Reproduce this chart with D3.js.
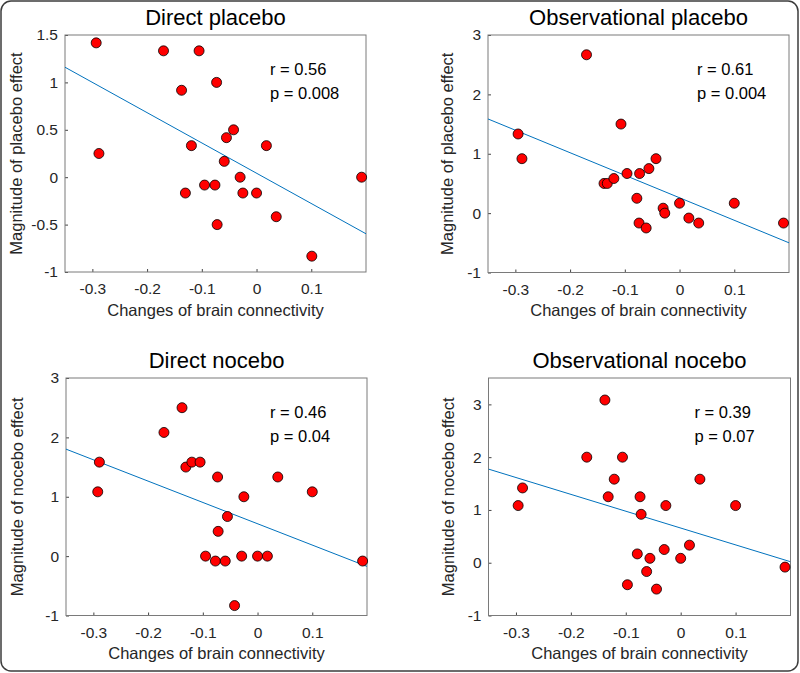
<!DOCTYPE html>
<html>
<head>
<meta charset="utf-8">
<script src="https://cdn.jsdelivr.net/npm/d3@7"></script>
<style>
  html, body { margin: 0; padding: 0; background: #ffffff; }
  svg text { font-family: "Liberation Sans", Arial, Helvetica, sans-serif; }
</style>
</head>
<body>
<svg id="chart" width="800" height="673"></svg>
<script>
// ---------------- DATA ----------------
const panelTitles = ["Direct placebo", "Observational placebo", "Direct nocebo", "Observational nocebo"];
const yAxisLabels = ["Magnitude of placebo effect", "Magnitude of placebo effect",
                     "Magnitude of nocebo effect", "Magnitude of nocebo effect"];
const xAxisLabel = "Changes of brain connectivity";
const xDomain = [-0.35, 0.2];
const xTickValues = [-0.3, -0.2, -0.1, 0, 0.1];
const yDomains = [[-1, 1.5], [-1, 3], [-1, 3], [-1, 3.5]];
const yTickValues = [[-1, -0.5, 0, 0.5, 1, 1.5], [-1, 0, 1, 2, 3], [-1, 0, 1, 2, 3], [-1, 0, 1, 2, 3]];
const rValues = ["0.56", "0.61", "0.46", "0.39"];
const pValues = ["0.008", "0.004", "0.04", "0.07"];

// Direct placebo
const xDirectPlacebo = [-0.293, -0.288, -0.170, -0.105, -0.137, -0.073, -0.042, -0.055, -0.119, 0.018, -0.059,
                        -0.030, 0.192, -0.130, -0.095, -0.076, -0.025, 0.0, 0.036, -0.072, 0.101];
const yDirectPlacebo = [1.417, 0.25, 1.333, 1.333, 0.917, 1.0, 0.5, 0.417, 0.333, 0.333, 0.167,
                        0, 0, -0.167, -0.083, -0.083, -0.167, -0.167, -0.417, -0.5, -0.833];
// Observational placebo
const xObsPlacebo = [-0.295, -0.288, -0.170, -0.107, -0.138, -0.132, -0.120, -0.096, -0.073, -0.056, -0.043,
                     -0.078, -0.030, -0.027, 0.0, 0.017, 0.035, -0.074, -0.061, 0.1, 0.19];
const yObsPlacebo = [1.333, 0.917, 2.667, 1.5, 0.5, 0.5, 0.583, 0.667, 0.667, 0.75, 0.917,
                     0.25, 0.083, 0, 0.167, -0.083, -0.167, -0.167, -0.25, 0.167, -0.167];
// Direct nocebo
const xDirectNocebo = [-0.292, -0.289, -0.171, -0.138, -0.131, -0.120, -0.105, -0.073, -0.025, -0.055, -0.072,
                       -0.095, -0.077, -0.059, -0.029, 0.0, 0.018, -0.042, 0.037, 0.1, 0.192];
const yDirectNocebo = [1.083, 1.583, 2.083, 2.5, 1.5, 1.583, 1.583, 1.333, 1.0, 0.667, 0.417,
                       0, -0.083, -0.083, 0, 0, 0, -0.833, 1.333, 1.083, -0.083];
// Observational nocebo
const xObsNocebo = [-0.296, -0.288, -0.171, -0.138, -0.106, -0.121, -0.132, -0.074, -0.072, -0.027, 0.035,
                    0.1, -0.030, 0.016, -0.079, -0.056, 0.0, -0.062, -0.097, -0.044, 0.19];
const yObsNocebo = [1.083, 1.417, 2.0, 3.083, 2.0, 1.583, 1.25, 1.25, 0.917, 1.083, 1.583,
                    1.083, 0.25, 0.333, 0.167, 0.083, 0.083, -0.167, -0.417, -0.5, -0.083];

const xSeries = [xDirectPlacebo, xObsPlacebo, xDirectNocebo, xObsNocebo];
const ySeries = [yDirectPlacebo, yObsPlacebo, yDirectNocebo, yObsNocebo];

// Regression line: y value at the left and right end of the x domain
const fitLeftY  = [1.16, 1.586, 1.802, 1.774];
const fitRightY = [-0.597, -0.5, -0.173, 0.019];

// ---------------- LAYOUT ----------------
const boxes = [
  { l: 65,    t: 35,  w: 301, h: 237,   ylabOff: 43.5 },
  { l: 488,   t: 35,  w: 301, h: 237.5, ylabOff: 35 },
  { l: 66,    t: 378, w: 301, h: 237.5, ylabOff: 43.5 },
  { l: 488.5, t: 378, w: 302, h: 237.5, ylabOff: 35 }
];
const annOffX = [205, 209, 204, 206];
const FONT = '"Liberation Sans", Arial, Helvetica, sans-serif';
const TICK_FS = 15.5;

const svg = d3.select("#chart");

svg.append("rect")
  .attr("x", 1).attr("y", 1).attr("width", 797).attr("height", 670)
  .attr("rx", 10).attr("ry", 10)
  .attr("fill", "#ffffff").attr("stroke", "#3c3c3c").attr("stroke-width", 1.5);

boxes.forEach((b, i) => {
  const g = svg.append("g");
  const x = d3.scaleLinear().domain(xDomain).range([b.l, b.l + b.w]);
  const y = d3.scaleLinear().domain(yDomains[i]).range([b.t + b.h, b.t]);

  const clipId = "clip" + i;
  svg.append("clipPath").attr("id", clipId)
    .append("rect").attr("x", b.l).attr("y", b.t).attr("width", b.w).attr("height", b.h);

  // axes (ticks inside)
  const xAxis = d3.axisBottom(x).tickValues(xTickValues).tickFormat(d => String(d))
    .tickSizeInner(-3).tickSizeOuter(0).tickPadding(11);
  const gx = g.append("g").attr("transform", `translate(0,${b.t + b.h})`).call(xAxis);
  const yAxis = d3.axisLeft(y).tickValues(yTickValues[i]).tickFormat(d => String(d))
    .tickSizeInner(-3).tickSizeOuter(0).tickPadding(7);
  const gy = g.append("g").attr("transform", `translate(${b.l},0)`).call(yAxis);
  [gx, gy].forEach(ax => {
    ax.attr("font-size", TICK_FS).attr("font-family", FONT);
    ax.select(".domain").remove();
    ax.selectAll(".tick line").attr("stroke", "#444");
    ax.selectAll(".tick text").attr("fill", "#262626")
      .attr("font-size", TICK_FS).attr("font-family", FONT);
  });

  // box
  g.append("rect").attr("x", b.l).attr("y", b.t).attr("width", b.w).attr("height", b.h)
    .attr("fill", "none").attr("stroke", "#7a7a7a").attr("stroke-width", 1);

  // regression line
  g.append("line").attr("clip-path", `url(#${clipId})`)
    .attr("x1", x(xDomain[0])).attr("y1", y(fitLeftY[i]))
    .attr("x2", x(xDomain[1])).attr("y2", y(fitRightY[i]))
    .attr("stroke", "#0072BD").attr("stroke-width", 1);

  // points
  const pts = xSeries[i].map((v, k) => ({ x: v, y: ySeries[i][k] }));
  g.selectAll("circle.pt").data(pts).enter().append("circle").attr("class", "pt")
    .attr("cx", d => x(d.x)).attr("cy", d => y(d.y)).attr("r", 5)
    .attr("fill", "#ff0000").attr("stroke", "#000").attr("stroke-width", 0.8);

  // title
  g.append("text").attr("x", b.l + b.w / 2).attr("y", b.t - 10.5)
    .attr("text-anchor", "middle").attr("fill", "#000")
    .attr("font-size", 22).attr("font-family", FONT)
    .text(panelTitles[i]);

  // x label
  g.append("text").attr("x", b.l + b.w / 2).attr("y", b.t + b.h + 43.5)
    .attr("text-anchor", "middle").attr("fill", "#262626")
    .attr("font-size", 16.5).attr("font-family", FONT)
    .text(xAxisLabel);

  // y label
  g.append("text")
    .attr("transform", `translate(${b.l - b.ylabOff},${b.t + b.h / 2}) rotate(-90)`)
    .attr("text-anchor", "middle").attr("fill", "#262626")
    .attr("font-size", 16.5).attr("font-family", FONT)
    .text(yAxisLabels[i]);

  // annotations
  g.append("text").attr("x", b.l + annOffX[i]).attr("y", b.t + 40)
    .attr("fill", "#000").attr("font-size", 16.5).attr("font-family", FONT)
    .text("r = " + rValues[i]);
  g.append("text").attr("x", b.l + annOffX[i]).attr("y", b.t + 64)
    .attr("fill", "#000").attr("font-size", 16.5).attr("font-family", FONT)
    .text("p = " + pValues[i]);
});
</script>
</body>
</html>
